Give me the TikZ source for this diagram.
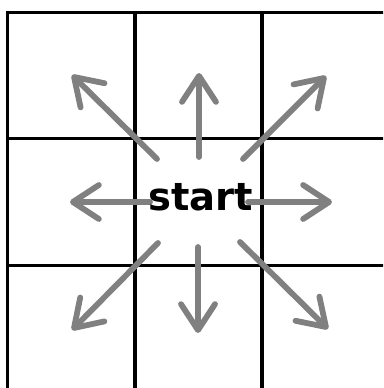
\documentclass[tikz,border=0pt]{standalone}
\usepackage{fontspec}
\setmainfont{DejaVu Sans}
\usetikzlibrary{arrows.meta}
\begin{document}
\begin{tikzpicture}[x=1pt,y=-1pt,
  gridline/.style={line width=3.2pt,black},
  move/.style={line width=5.8pt,draw={rgb,255:red,128;green,128;blue,128},line cap=round,
    -{Straight Barb[length=26pt,width=34pt,round]}},
  lbl/.style={font=\fontsize{38.5}{40}\selectfont\bfseries,inner sep=0pt,anchor=base}]
\useasboundingbox (0,0) rectangle (383,388);
\begin{scope}
\clip (0,0) rectangle (383,388);
\draw[gridline] (7.5,12.5) rectangle (389,393.5);
\draw[gridline] (135,12.5) -- (135,393.5);
\draw[gridline] (262,12.5) -- (262,393.5);
\draw[gridline] (7.5,138.5) -- (389,138.5);
\draw[gridline] (7.5,265.5) -- (389,265.5);
\end{scope}
\coordinate (uS) at (199,157); \coordinate (uE) at (199,73);
\coordinate (dS) at (198,247); \coordinate (dE) at (198,333);
\coordinate (lS) at (150,202); \coordinate (lE) at (70,202);
\coordinate (rS) at (248,202); \coordinate (rE) at (332,202);
\coordinate (ulS) at (157,159); \coordinate (ulE) at (72,75);
\coordinate (urS) at (243,159); \coordinate (urE) at (326,76);
\coordinate (dlS) at (158,243); \coordinate (dlE) at (72,330);
\coordinate (drS) at (240,242); \coordinate (drE) at (328,329);
\foreach \d in {u,d,l,r,ul,ur,dl,dr} \draw[move] (\d S) -- (\d E);
\node[lbl] (s) at (200.5,210) {start};
\end{tikzpicture}
\end{document}
